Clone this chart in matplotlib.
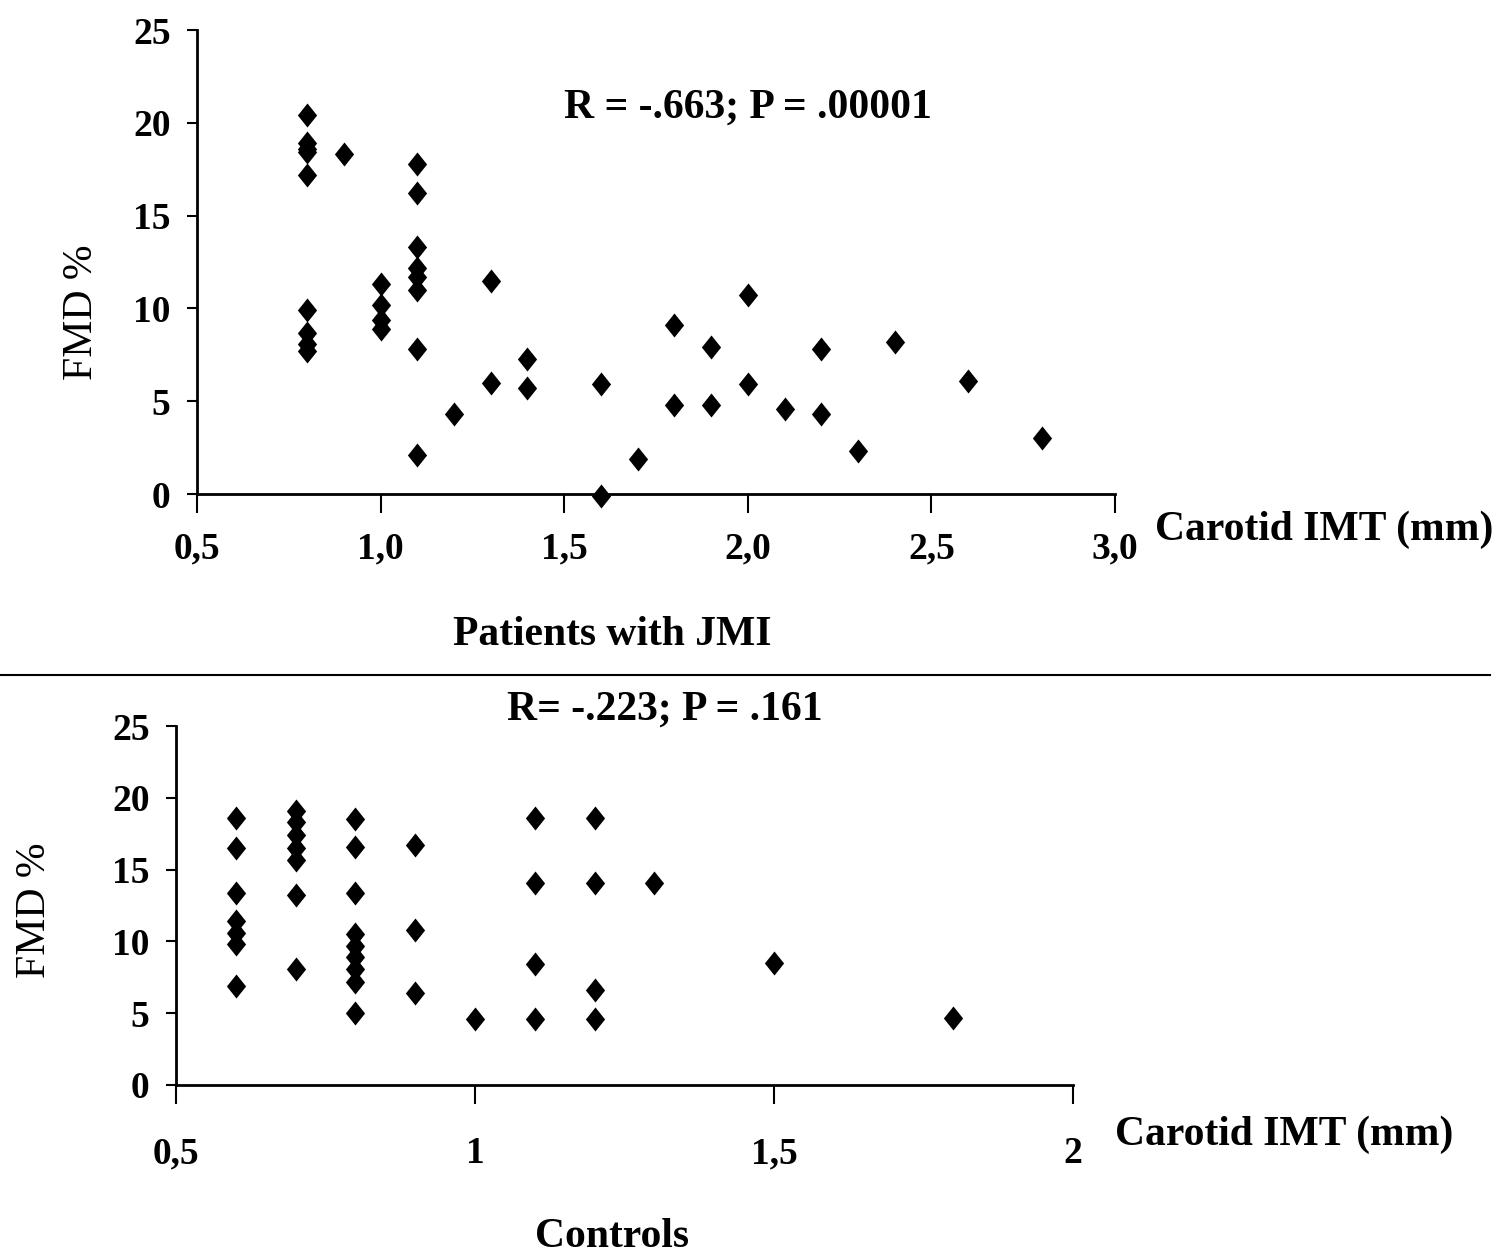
import matplotlib
matplotlib.use("Agg")
import matplotlib.pyplot as plt
from matplotlib.lines import Line2D

plt.rcParams["font.family"] = ["Liberation Serif", "DejaVu Serif"]
plt.rcParams["font.weight"] = "bold"

# patients with JMI
pat_imt = [0.8, 0.8, 0.8, 0.8, 0.8, 0.8, 0.8, 0.8, 0.8,
           0.9,
           1.0, 1.0, 1.0, 1.0,
           1.1, 1.1, 1.1, 1.1, 1.1, 1.1, 1.1, 1.1,
           1.2, 1.3, 1.3, 1.4, 1.4,
           1.6, 1.6, 1.7, 1.8, 1.8, 1.9, 1.9, 2.0, 2.0,
           2.1, 2.2, 2.2, 2.3, 2.4, 2.6, 2.8]
pat_fmd = [20.4, 18.9, 18.6, 18.4, 17.2, 9.9, 8.7, 8.1, 7.7,
           18.3,
           11.3, 10.2, 9.4, 8.9,
           17.8, 16.2, 13.3, 12.2, 11.7, 11.0, 7.8, 2.1,
           4.3, 11.5, 6.0, 7.3, 5.7,
           5.9, -0.1, 1.9, 9.1, 4.8, 7.9, 4.8, 10.7, 5.9,
           4.6, 7.8, 4.3, 2.3, 8.2, 6.1, 3.0]

# controls
ctl_imt = [0.6, 0.6, 0.6, 0.6, 0.6, 0.6, 0.6,
           0.7, 0.7, 0.7, 0.7, 0.7, 0.7, 0.7,
           0.8, 0.8, 0.8, 0.8, 0.8, 0.8, 0.8, 0.8, 0.8,
           0.9, 0.9, 0.9,
           1.0,
           1.1, 1.1, 1.1, 1.1,
           1.2, 1.2, 1.2, 1.2,
           1.3, 1.5, 1.8]
ctl_fmd = [18.6, 16.5, 13.4, 11.4, 10.6, 9.8, 6.9,
           19.1, 18.3, 17.4, 16.5, 15.7, 13.2, 8.1,
           18.5, 16.6, 13.4, 10.5, 9.7, 8.9, 8.1, 7.2, 5.0,
           16.7, 10.8, 6.4,
           4.6,
           18.6, 14.1, 8.4, 4.6,
           18.6, 14.1, 6.6, 4.6,
           14.1, 8.5, 4.7]

pat_xticks = [0.5, 1.0, 1.5, 2.0, 2.5, 3.0]
pat_xlabels = ["0,5", "1,0", "1,5", "2,0", "2,5", "3,0"]
ctl_xticks = [0.5, 1.0, 1.5, 2.0]
ctl_xlabels = ["0,5", "1", "1,5", "2"]
yticks = [0, 5, 10, 15, 20, 25]

W, H = 1507, 1254
fig = plt.figure(figsize=(W / 100, H / 100), dpi=100)

diamond = [(0, 1), (0.8, 0), (0, -1), (-0.8, 0), (0, 1)]


def panel(rect, x, y, xlim, xticks, xlabels, xpad):
    ax = fig.add_axes(rect)
    ax.scatter(x, y, marker=diamond, s=300, c="black", linewidths=0, clip_on=False, zorder=3)
    ax.set_xlim(*xlim)
    ax.set_ylim(0, 25)
    ax.spines["top"].set_visible(False)
    ax.spines["right"].set_visible(False)
    for s in ("left", "bottom"):
        ax.spines[s].set_linewidth(2)
    ax.set_xticks(xticks)
    ax.set_xticklabels(xlabels)
    ax.set_yticks(yticks)
    ax.tick_params(axis="x", direction="out", length=14, width=1.5, pad=xpad, labelsize=27)
    ax.tick_params(axis="y", direction="out", length=7, width=1.5, pad=12, labelsize=27)
    for lab in ax.get_xticklabels() + ax.get_yticklabels():
        lab.set_fontweight("bold")
    return ax


ax1 = panel([197 / W, 1 - 494 / H, (1115 - 197) / W, (494 - 30) / H],
            pat_imt, pat_fmd, (0.5, 3.0), pat_xticks, pat_xlabels, 13)
ax2 = panel([176 / W, 1 - 1085 / H, (1073 - 176) / W, (1085 - 726) / H],
            ctl_imt, ctl_fmd, (0.5, 2.0), ctl_xticks, ctl_xlabels, 23)

fs = 30
fig.text(1155 / W, 1 - 530 / H, "Carotid IMT (mm)", fontsize=fs, fontweight="bold", va="center", ha="left")
fig.text(612 / W, 1 - 635 / H, "Patients with JMI", fontsize=fs, fontweight="bold", va="center", ha="center")
fig.text(748 / W, 1 - 108 / H, "R = -.663; P = .00001", fontsize=fs, fontweight="bold", va="center", ha="center")
fig.text(82 / W, 1 - 312 / H, "FMD %", fontsize=fs, fontweight="normal", rotation=90, va="center", ha="center")

fig.text(1115 / W, 1 - 1135 / H, "Carotid IMT (mm)", fontsize=fs, fontweight="bold", va="center", ha="left")
fig.text(612 / W, 1 - 1237 / H, "Controls", fontsize=fs, fontweight="bold", va="center", ha="center")
fig.text(665 / W, 1 - 710 / H, "R= -.223; P = .161", fontsize=fs, fontweight="bold", va="center", ha="center")
fig.text(35 / W, 1 - 910 / H, "FMD %", fontsize=fs, fontweight="normal", rotation=90, va="center", ha="center")

fig.add_artist(Line2D([0, 1490 / W], [1 - 675 / H, 1 - 675 / H], color="black", linewidth=1.5))

fig.savefig("out.png", dpi=100)
